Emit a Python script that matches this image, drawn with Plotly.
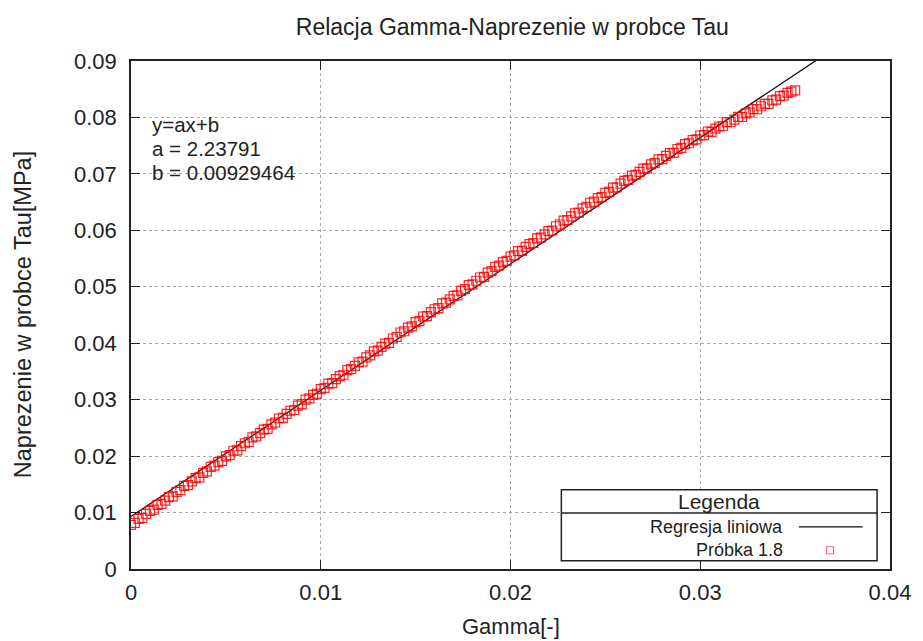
import plotly.graph_objects as go

# Measured shear strain (Gamma) and shear stress Tau [MPa], sample 1.8
gamma = [
    0.0000, 0.0002, 0.0004, 0.0006, 0.0008, 0.0010, 0.0012, 0.0014, 0.0016, 0.0018,
    0.0020, 0.0022, 0.0024, 0.0026, 0.0028, 0.0030, 0.0032, 0.0034, 0.0036, 0.0038,
    0.0040, 0.0042, 0.0044, 0.0046, 0.0048, 0.0050, 0.0052, 0.0054, 0.0056, 0.0058,
    0.0060, 0.0062, 0.0064, 0.0066, 0.0068, 0.0070, 0.0072, 0.0074, 0.0076, 0.0078,
    0.0080, 0.0082, 0.0084, 0.0086, 0.0088, 0.0090, 0.0092, 0.0094, 0.0096, 0.0098,
    0.0100, 0.0102, 0.0104, 0.0106, 0.0108, 0.0110, 0.0112, 0.0114, 0.0116, 0.0118,
    0.0120, 0.0122, 0.0124, 0.0126, 0.0128, 0.0130, 0.0132, 0.0134, 0.0136, 0.0138,
    0.0140, 0.0142, 0.0144, 0.0146, 0.0148, 0.0150, 0.0152, 0.0154, 0.0156, 0.0158,
    0.0160, 0.0162, 0.0164, 0.0166, 0.0168, 0.0170, 0.0172, 0.0174, 0.0176, 0.0178,
    0.0180, 0.0182, 0.0184, 0.0186, 0.0188, 0.0190, 0.0192, 0.0194, 0.0196, 0.0198,
    0.0200, 0.0202, 0.0204, 0.0206, 0.0208, 0.0210, 0.0212, 0.0214, 0.0216, 0.0218,
    0.0220, 0.0222, 0.0224, 0.0226, 0.0228, 0.0230, 0.0232, 0.0234, 0.0236, 0.0238,
    0.0240, 0.0242, 0.0244, 0.0246, 0.0248, 0.0250, 0.0252, 0.0254, 0.0256, 0.0258,
    0.0260, 0.0262, 0.0264, 0.0266, 0.0268, 0.0270, 0.0272, 0.0274, 0.0276, 0.0278,
    0.0280, 0.0282, 0.0284, 0.0286, 0.0288, 0.0290, 0.0292, 0.0294, 0.0296, 0.0298,
    0.0300, 0.0302, 0.0304, 0.0306, 0.0308, 0.0310, 0.0312, 0.0314, 0.0316, 0.0318,
    0.0320, 0.0322, 0.0324, 0.0326, 0.0328, 0.0330, 0.0332, 0.0334, 0.0336, 0.0338,
    0.0340, 0.0342, 0.0344, 0.0346, 0.0348, 0.0350,
]
tau = [
    0.00780, 0.00818, 0.00886, 0.00904, 0.00977, 0.01030, 0.01053, 0.01136, 0.01154, 0.01212,
    0.01275, 0.01288, 0.01366, 0.01399, 0.01472, 0.01485, 0.01553, 0.01611, 0.01624, 0.01702,
    0.01730, 0.01808, 0.01831, 0.01894, 0.01917, 0.01995, 0.02018, 0.02095, 0.02103, 0.02176,
    0.02228, 0.02251, 0.02333, 0.02351, 0.02408, 0.02471, 0.02484, 0.02561, 0.02594, 0.02666,
    0.02679, 0.02747, 0.02804, 0.02817, 0.02894, 0.02922, 0.03000, 0.03022, 0.03085, 0.03107,
    0.03185, 0.03208, 0.03285, 0.03293, 0.03365, 0.03418, 0.03441, 0.03523, 0.03541, 0.03598,
    0.03661, 0.03674, 0.03751, 0.03784, 0.03856, 0.03869, 0.03937, 0.03994, 0.04007, 0.04084,
    0.04112, 0.04190, 0.04212, 0.04275, 0.04297, 0.04375, 0.04396, 0.04473, 0.04479, 0.04551,
    0.04602, 0.04623, 0.04705, 0.04721, 0.04778, 0.04839, 0.04850, 0.04927, 0.04958, 0.05030,
    0.05041, 0.05107, 0.05164, 0.05175, 0.05252, 0.05278, 0.05354, 0.05376, 0.05437, 0.05459,
    0.05535, 0.05555, 0.05630, 0.05636, 0.05706, 0.05756, 0.05776, 0.05856, 0.05872, 0.05927,
    0.05987, 0.05997, 0.06072, 0.06103, 0.06173, 0.06183, 0.06248, 0.06303, 0.06314, 0.06389,
    0.06414, 0.06489, 0.06509, 0.06570, 0.06590, 0.06665, 0.06683, 0.06756, 0.06759, 0.06827,
    0.06875, 0.06893, 0.06971, 0.06984, 0.07037, 0.07095, 0.07099, 0.07168, 0.07192, 0.07256,
    0.07260, 0.07319, 0.07368, 0.07372, 0.07441, 0.07460, 0.07529, 0.07543, 0.07597, 0.07611,
    0.07680, 0.07688, 0.07751, 0.07744, 0.07802, 0.07840, 0.07848, 0.07916, 0.07919, 0.07962,
    0.08010, 0.08008, 0.08071, 0.08089, 0.08147, 0.08145, 0.08198, 0.08241, 0.08239, 0.08302,
    0.08315, 0.08378, 0.08386, 0.08434, 0.08457, 0.08480,
]

# Linear regression y = a*x + b
a_coef = 2.23791
b_coef = 0.00929464
reg_x = [0.0, 0.04]
reg_y = [a_coef * x + b_coef for x in reg_x]

x_ticks = [0, 0.01, 0.02, 0.03, 0.04]
x_tick_text = ["0", "0.01", "0.02", "0.03", "0.04"]
y_ticks = [0, 0.01, 0.02, 0.03, 0.04, 0.05, 0.06, 0.07, 0.08, 0.09]
y_tick_text = ["0", "0.01", "0.02", "0.03", "0.04", "0.05", "0.06", "0.07", "0.08", "0.09"]

FONT = "Liberation Sans, Arial, sans-serif"
INK = "#222222"
RED = "rgba(255,0,0,0.85)"

fig = go.Figure()
fig.add_trace(go.Scatter(
    x=reg_x, y=reg_y, mode="lines",
    line=dict(color="#111111", width=1.3),
    name="Regresja liniowa", showlegend=False,
))
fig.add_trace(go.Scatter(
    x=gamma, y=tau, mode="markers",
    marker=dict(symbol="square-open", size=9, color=RED, line=dict(width=1.2, color=RED)),
    name="Próbka 1.8", showlegend=False,
))

axis_common = dict(
    showgrid=True, gridcolor="#a8a8a8", griddash="dot", gridwidth=1,
    showline=True, linecolor=INK, linewidth=1.5, mirror="ticks",
    ticks="inside", ticklen=9, tickwidth=1.3, tickcolor=INK,
    zeroline=False, tickfont=dict(family=FONT, size=22, color=INK),
)
fig.update_xaxes(range=[0, 0.04], tickvals=x_ticks, ticktext=x_tick_text,
                 ticklabelstandoff=3, **axis_common)
fig.update_yaxes(range=[0, 0.09], tickvals=y_ticks, ticktext=y_tick_text,
                 ticklabelstandoff=8, **axis_common)

annotations = [
    dict(text="Gamma[-]", x=0.5, y=-0.114, xref="paper", yref="paper",
         xanchor="center", yanchor="middle", showarrow=False,
         font=dict(family=FONT, size=22, color=INK)),
    dict(text="Naprezenie w probce Tau[MPa]", x=-0.142, y=0.5, xref="paper", yref="paper",
         xanchor="center", yanchor="middle", textangle=-90, showarrow=False,
         font=dict(family=FONT, size=23.5, color=INK)),
]
# Fit parameters in the upper-left corner
for txt, yy in [("y=ax+b", 0.875), ("a = 2.23791", 0.828), ("b = 0.00929464", 0.781)]:
    annotations.append(dict(text=txt, x=0.025, y=yy, xref="paper", yref="paper",
                            xanchor="left", yanchor="middle", showarrow=False,
                            font=dict(family=FONT, size=20.5, color=INK)))

# Boxed legend in the lower-right corner
lx0, lx1, ly0, ly1, lsep = 0.567, 0.983, 0.016, 0.156, 0.110
mx, my = 0.921, 0.037
shapes = [
    dict(type="rect", xref="paper", yref="paper", x0=lx0, x1=lx1, y0=ly0, y1=ly1,
         line=dict(color=INK, width=1.5), fillcolor="white", layer="above"),
    dict(type="line", xref="paper", yref="paper", x0=lx0, x1=lx1, y0=lsep, y1=lsep,
         line=dict(color=INK, width=1.5), layer="above"),
    dict(type="line", xref="paper", yref="paper", x0=0.880, x1=0.964, y0=0.083, y1=0.083,
         line=dict(color="#111111", width=1.3), layer="above"),
    dict(type="rect", xref="paper", yref="paper",
         x0=mx - 0.0046, x1=mx + 0.0046, y0=my - 0.0069, y1=my + 0.0069,
         line=dict(color="rgba(255,0,0,0.6)", width=1.1), layer="above"),
]
annotations += [
    dict(text="Legenda", x=(lx0 + lx1) / 2, y=(ly1 + lsep) / 2, xref="paper", yref="paper",
         xanchor="center", yanchor="middle", showarrow=False,
         font=dict(family=FONT, size=21, color=INK)),
    dict(text="Regresja liniowa", x=0.862, y=0.083, xref="paper", yref="paper",
         xanchor="right", yanchor="middle", showarrow=False,
         font=dict(family=FONT, size=18, color=INK)),
    dict(text="Próbka 1.8", x=0.862, y=0.037, xref="paper", yref="paper",
         xanchor="right", yanchor="middle", showarrow=False,
         font=dict(family=FONT, size=18, color=INK)),
]

fig.update_layout(
    width=923, height=641,
    margin=dict(l=131, r=30, t=61, b=72, pad=0),
    paper_bgcolor="white", plot_bgcolor="white",
    title=dict(text="Relacja Gamma-Naprezenie w probce Tau", x=0.555, y=0.958,
               xanchor="center", yanchor="middle",
               font=dict(family=FONT, size=23, color=INK)),
    annotations=annotations, shapes=shapes, showlegend=False,
)

fig.write_html("out.html")
